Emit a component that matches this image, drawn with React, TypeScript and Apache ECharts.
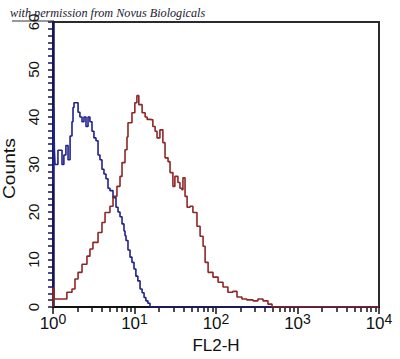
import React, { useEffect, useRef } from "react";
import * as echarts from "echarts";

const blueX = [1.0, 1.02, 1.04, 1.06, 1.15, 1.22, 1.29, 1.36, 1.44, 1.53, 1.62, 1.71, 1.76, 1.81, 1.92, 2.03, 2.14, 2.27, 2.40, 2.54, 2.69, 2.84, 3.01, 3.18, 3.37, 3.57, 3.77, 3.99, 4.22, 4.47, 4.73, 5.00, 5.45, 5.93, 6.28, 6.64, 7.03, 7.43, 7.65, 7.87, 8.32, 8.81, 9.31, 9.86, 10.4, 11.0, 11.7, 12.4, 13.1, 13.8, 14.6, 15.5, 10000];
const blueY = [26, 42, 33, 30, 33, 33, 30, 32, 34, 31, 36, 39, 42, 43, 43, 41, 40, 39, 40, 38, 40, 39, 37, 35.6, 35, 32, 31, 29, 28, 27, 25, 24.5, 23, 21, 20, 19, 17.5, 16, 15, 14, 12, 10.5, 9.4, 8, 6.5, 5.5, 3.8, 3, 2, 1.3, 0.8, 0, 0];

const redX = [1.0, 1.0, 1.03, 1.48, 1.71, 1.86, 2.03, 2.27, 2.61, 2.84, 3.09, 3.57, 3.99, 4.35, 5.00, 5.45, 6.09, 6.64, 7.03, 7.65, 8.09, 8.32, 9.31, 10.1, 10.7, 11.3, 12.4, 13.5, 14.3, 15.5, 16.8, 17.9, 18.9, 20.5, 22.3, 23.7, 25.8, 27.3, 29.6, 31.3, 34.1, 36.1, 38.2, 39.3, 41.7, 44.2, 48.0, 52.1, 58.4, 63.8, 69.4, 73.5, 80.0, 91.8, 106, 122, 140, 161, 181, 208, 239, 285, 327, 377, 434, 487, 10000];
const redY = [0, 4, 1.7, 3.1, 3.8, 5.9, 7.3, 9, 10.7, 12.2, 13.6, 15.7, 17.8, 19.9, 21.2, 23.3, 25.4, 27.5, 30.4, 33.1, 35.8, 38.8, 40.9, 43, 44.5, 42.6, 40.9, 40, 39.5, 39.4, 38, 37, 35.6, 37.3, 34.6, 31.4, 30.6, 28.3, 25.4, 27.5, 26.2, 25, 24.7, 27.2, 23.3, 21, 21.2, 19.9, 17, 14.9, 12.8, 9.4, 7.3, 6.3, 5.2, 4.2, 3.1, 3.3, 2.1, 1.7, 1.5, 1.3, 1.7, 1.3, 0.6, 0, 0];

const titleText = "with permission from Novus Biologicals";
const xName = "FL2-H";
const yName = "Counts";

export default function App() {
  const ref = useRef<HTMLDivElement>(null);
  useEffect(() => {
    if (!ref.current) return;
    const chart = echarts.init(ref.current, null, { renderer: "svg" });
    const font = "Liberation Sans, Arial, sans-serif";
    chart.setOption({
      animation: false,
      backgroundColor: "#ffffff",
      grid: {
        left: 53,
        right: 21,
        top: 22,
        bottom: 51,
        show: true,
        borderColor: "#2b2b2b",
        borderWidth: 2,
        backgroundColor: "transparent",
      },
      graphic: [
        {
          type: "text",
          left: 10,
          top: 7,
          z: 20,
          style: {
            text: titleText,
            font: "italic 12.2px 'Liberation Serif', serif",
            fill: "#1a1a30",
          },
        },
        {
          type: "line",
          z: 19,
          shape: { x1: 12, y1: 21, x2: 54, y2: 21 },
          style: { stroke: "#333", lineWidth: 1 },
        },
        {
          type: "text",
          x: 2,
          y: 199,
          rotation: Math.PI / 2,
          scaleX: 1.2,
          style: {
            text: yName,
            font: `16px ${font}`,
            fill: "#111",
          },
        },
      ],
      xAxis: {
        type: "log",
        logBase: 10,
        min: 1,
        max: 10000,
        name: xName,
        nameLocation: "middle",
        nameGap: 30,
        nameTextStyle: { fontSize: 17, color: "#111", fontFamily: font },
        axisLine: { show: true, lineStyle: { color: "#111", width: 2 } },
        axisTick: { show: true, length: 7, lineStyle: { color: "#111", width: 1.5 } },
        minorTick: { show: true, splitNumber: 9, length: 5, lineStyle: { color: "#111", width: 1.5 } },
        axisLabel: {
          show: true,
          margin: 5,
          formatter: (v: number) => `{b|10}{e|${Math.round(Math.log10(v))}}`,
          rich: {
            b: { fontSize: 17, fontFamily: font, color: "#111", verticalAlign: "bottom", lineHeight: 20 },
            e: { fontSize: 14, fontFamily: font, color: "#111", verticalAlign: "top", lineHeight: 14, padding: [0, 0, 6, 0] },
          },
        },
        splitLine: { show: false },
        minorSplitLine: { show: false },
      },
      yAxis: {
        type: "value",
        min: 0,
        max: 60,
        interval: 10,
        axisLine: { show: true, lineStyle: { color: "#14145a", width: 2.5 } },
        axisTick: { show: true, length: 5, lineStyle: { color: "#14145a", width: 1.5 } },
        minorTick: { show: true, splitNumber: 7, length: 5, lineStyle: { color: "#14145a", width: 1.5 } },
        axisLabel: {
          rotate: 90,
          margin: 12,
          fontSize: 15,
          fontFamily: font,
          color: "#111",
        },
        splitLine: { show: false },
      },
      series: [
        {
          type: "line",
          name: "control",
          step: "end",
          showSymbol: false,
          symbol: "none",
          data: blueX.map((x, i) => [x, blueY[i]]),
          lineStyle: { color: "#20208c", width: 1.6 },
          z: 3,
        },
        {
          type: "line",
          name: "stained",
          step: "end",
          showSymbol: false,
          symbol: "none",
          data: redX.map((x, i) => [x, redY[i]]),
          lineStyle: { color: "#8e2626", width: 1.6 },
          z: 4,
        },
      ],
    });
    return () => chart.dispose();
  }, []);
  return <div ref={ref} style={{ width: 400, height: 359, position: "absolute", left: 0, top: 0 }} />;
}
